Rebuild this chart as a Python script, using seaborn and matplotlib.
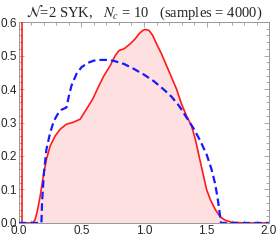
import numpy as np
import pandas as pd
import matplotlib
matplotlib.use("Agg")
import matplotlib.pyplot as plt
from matplotlib.ticker import MultipleLocator, FormatStrFormatter
import seaborn as sns

# zero-mode spike of the sampled density near x=0
spike_x = [0.025, 0.025]
spike_y = [0.0, 2.0]

# sampled density (red)
red_x = [0.0, 0.11, 0.13, 0.15, 0.17, 0.195, 0.22, 0.25,
         0.29, 0.33, 0.38, 0.43, 0.49, 0.54, 0.59, 0.64, 0.68, 0.73, 0.77, 0.80,
         0.84, 0.89, 0.93, 0.96, 0.99, 1.01, 1.04, 1.07, 1.10, 1.14, 1.18, 1.22,
         1.26, 1.30, 1.34, 1.38, 1.41, 1.44, 1.47, 1.50, 1.53, 1.57, 1.61, 1.65,
         1.70, 1.80, 2.0]
red_y = [0.0, 0.0, 0.01, 0.04, 0.08, 0.14, 0.19, 0.23,
         0.26, 0.28, 0.295, 0.30, 0.31, 0.34, 0.37, 0.41, 0.44, 0.47, 0.50, 0.515,
         0.52, 0.535, 0.55, 0.565, 0.575, 0.578, 0.575, 0.56, 0.535, 0.505, 0.47, 0.435,
         0.40, 0.355, 0.32, 0.29, 0.25, 0.20, 0.15, 0.10, 0.07, 0.04, 0.018, 0.008,
         0.002, 0.0, 0.0]

# analytic density (blue dashed)
blue_x = [0.0, 0.18, 0.185, 0.20, 0.22, 0.25, 0.28, 0.31, 0.34, 0.38, 0.40, 0.42,
          0.46, 0.50, 0.55, 0.60, 0.65, 0.70, 0.76, 0.84, 0.92, 1.00, 1.08, 1.16,
          1.22, 1.28, 1.34, 1.40, 1.45, 1.50, 1.54, 1.57, 1.59, 1.605, 1.615, 2.0]
blue_y = [0.0, 0.0, 0.06, 0.15, 0.22, 0.27, 0.305, 0.325, 0.338, 0.345, 0.38, 0.41,
          0.445, 0.465, 0.478, 0.485, 0.487, 0.487, 0.484, 0.475, 0.46, 0.443, 0.423, 0.398,
          0.377, 0.35, 0.315, 0.28, 0.245, 0.205, 0.16, 0.115, 0.07, 0.03, 0.0, 0.0]

title = r"$\mathcal{N}$=2 SYK,   $N_c$ = 10   (samples = 4000)"

sns.set_style("ticks")
plt.rcParams["mathtext.fontset"] = "stix"
plt.rcParams["font.family"] = ["Liberation Sans", "DejaVu Sans"]

fig = plt.figure(figsize=(2.78, 2.40), dpi=100)
ax = fig.add_axes([0.068, 0.071, 0.900, 0.837])

red = pd.concat([
    pd.DataFrame({"x": spike_x, "y": spike_y, "seg": "spike"}),
    pd.DataFrame({"x": red_x, "y": red_y, "seg": "curve"}),
], ignore_index=True)
blue = pd.DataFrame({"x": blue_x, "y": blue_y})

ax.fill_between(red_x, 0, red_y, color="#ffe0e0", lw=0, zorder=1)
sns.lineplot(data=red, x="x", y="y", units="seg", sort=False, estimator=None,
             color="#ff1a1a", lw=1.2, ax=ax, zorder=3)
sns.lineplot(data=blue, x="x", y="y", sort=False, estimator=None, color="#1a1aff",
             lw=1.6, linestyle=(0, (3.4, 1.8)), ax=ax, zorder=4)

ax.set_xlim(0, 2.0)
ax.set_ylim(0, 0.6)
ax.set_xlabel("")
ax.set_ylabel("")
ax.xaxis.set_major_locator(MultipleLocator(0.5))
ax.xaxis.set_minor_locator(MultipleLocator(0.1))
ax.yaxis.set_major_locator(MultipleLocator(0.1))
ax.yaxis.set_minor_locator(MultipleLocator(0.02))
ax.xaxis.set_major_formatter(FormatStrFormatter("%.1f"))
ax.yaxis.set_major_formatter(FormatStrFormatter("%.1f"))
ax.tick_params(which="both", direction="in", top=True, right=True, color="#999999",
               labelsize=8.5, pad=1.2, width=0.6)
ax.tick_params(which="major", length=3.5)
ax.tick_params(which="minor", length=2)
for s in ax.spines.values():
    s.set_color("#999999")
    s.set_linewidth(0.7)

ax.set_title(title, fontsize=10.5, family=["Liberation Serif", "DejaVu Serif"], pad=2)

fig.savefig("out.png", dpi=100)
